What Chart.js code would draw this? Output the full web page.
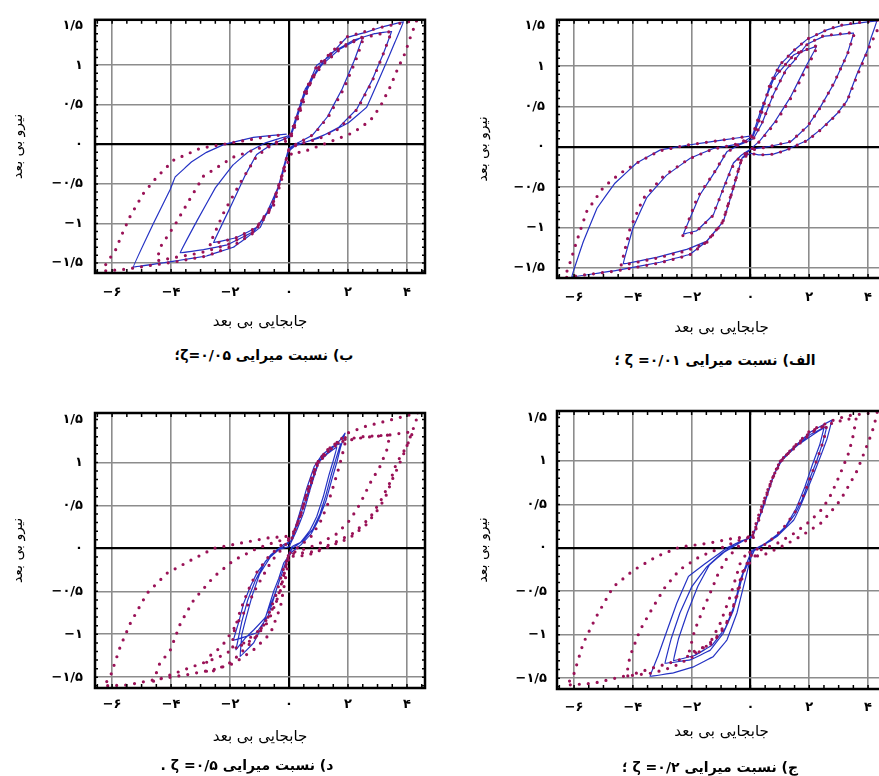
<!DOCTYPE html>
<html lang="fa">
<head>
<meta charset="utf-8">
<script src="https://cdn.jsdelivr.net/npm/chart.js@4.4.1/dist/chart.umd.min.js"></script>
<style>
html, body { margin: 0; padding: 0; background: #fff; overflow: hidden; width: 879px; height: 776px; }
canvas { position: absolute; }
.cap { position: absolute; font-family: "DejaVu Sans"; font-weight: bold; font-size: 14px; direction: rtl; white-space: nowrap; transform: translate(-50%, -50%); color: #000; }
</style>
</head>
<body>
<canvas id="c_be" width="440" height="345" style="left:0;top:0"></canvas>
<canvas id="c_alef" width="460" height="345" style="left:440px;top:0"></canvas>
<canvas id="c_dal" width="440" height="386" style="left:0;top:390px"></canvas>
<canvas id="c_jim" width="460" height="386" style="left:440px;top:390px"></canvas>
<div class="cap" id="cap_be" style="left:264px;top:355px"></div>
<div class="cap" id="cap_alef" style="left:715px;top:360px"></div>
<div class="cap" id="cap_dal" style="left:247px;top:765px"></div>
<div class="cap" id="cap_jim" style="left:710px;top:767px"></div>
<script>
// محورها
const xTicks = [-6, -4, -2, 0, 2, 4];
const yTicks = [-1.5, -1, -0.5, 0, 0.5, 1, 1.5];
const xTitle = 'جابجایی بی بعد';
const yTitle = 'نیرو بی بعد';
const captions = ['الف) نسبت میرایی ۰/۰۱= ζ ؛', 'ب) نسبت میرایی ۰/۰۵=ζ؛', 'ج) نسبت میرایی ۰/۲= ζ ؛', 'د) نسبت میرایی ۰/۵= ζ .'];

// الف) zeta = 0.01  (خط آبی و نقطه چین)
const alefBlue = [
  [0.05,0.12],[0.35,0.45],[0.8,0.85],[1.47,1.14],[2.26,1.25],[1.92,1.02],[1.35,0.61],[0.79,0.29],[0.33,0.08],[0,-0.03],
  [-0.3,-0.1],[-0.58,-0.2],[-0.92,-0.51],[-1.26,-0.84],[-1.83,-1.04],[-2.28,-1.08],[-1.71,-0.59],[-1.14,-0.27],[-0.8,-0.06],[-0.35,0.03],
  [0.1,0.1],[0.4,0.3],[0.78,0.65],[1.2,0.95],[1.47,1.06],[1.92,1.27],[2.49,1.37],[3.51,1.41],[3.28,1.14],[2.83,0.78],[2.37,0.49],[1.93,0.25],[1.35,0.06],[0.56,0],[0,-0.03],
  [-0.29,-0.14],[-0.58,-0.51],[-0.92,-0.92],[-1.49,-1.17],[-2.17,-1.27],[-3.19,-1.37],[-4.33,-1.45],[-3.99,-1.0],[-3.53,-0.63],[-2.85,-0.35],[-2.05,-0.14],[-1.26,-0.02],[-0.35,0.04],
  [0.1,0.14],[0.33,0.37],[0.67,0.78],[1.01,1.02],[1.5,1.2],[1.92,1.33],[2.6,1.45],[3.17,1.51],[3.8,1.54],[4.3,1.56],[4.1,1.35],[3.97,1.19],[3.62,0.9],[3.28,0.57],[2.94,0.41],[2.4,0.22],[1.92,0.08],[1.2,-0.04],[0.78,-0.09],[0.3,-0.1],[0,-0.08],
  [-0.29,-0.14],[-0.58,-0.51],[-0.92,-0.92],[-1.49,-1.17],[-2.05,-1.33],[-3.08,-1.43],[-4.55,-1.53],[-6.08,-1.61],[-5.68,-1.17],[-5.22,-0.76],[-4.61,-0.45],[-3.87,-0.2],[-3.08,-0.04],[-2.17,0.02],[-1.03,0.08],[0.1,0.14]
];
const alefDots = [
  [0.05,0.12],[0.4,0.5],[0.85,0.88],[1.5,1.15],[2.3,1.26],[1.95,1.0],[1.4,0.62],[0.85,0.3],[0.35,0.08],[0,-0.04],
  [-0.35,-0.12],[-0.62,-0.25],[-0.95,-0.55],[-1.3,-0.86],[-1.85,-1.05],[-2.3,-1.1],[-1.8,-0.62],[-1.2,-0.3],[-0.85,-0.08],[-0.4,0.03],
  [0.1,0.1],[0.42,0.32],[0.8,0.67],[1.22,0.96],[1.5,1.08],[1.95,1.28],[2.5,1.38],[3.55,1.42],[3.3,1.15],[2.85,0.8],[2.4,0.5],[1.95,0.26],[1.38,0.07],[0.6,0],[0,-0.04],
  [-0.3,-0.15],[-0.6,-0.53],[-0.95,-0.94],[-1.5,-1.19],[-2.2,-1.29],[-3.2,-1.38],[-4.4,-1.47],[-4.1,-1.02],[-3.65,-0.64],[-2.95,-0.36],[-2.1,-0.15],[-1.3,-0.03],[-0.4,0.04],
  [0.1,0.14],[0.35,0.38],[0.68,0.8],[1.03,1.03],[1.52,1.21],[1.95,1.34],[2.65,1.46],[3.2,1.52],[3.9,1.55],[4.5,1.58],[4.25,1.4],[4.0,1.2],[3.65,0.9],[3.3,0.58],[2.96,0.41],[2.42,0.22],[1.94,0.08],[1.22,-0.04],[0.8,-0.09],[0.3,-0.1],[0,-0.08],
  [-0.3,-0.15],[-0.6,-0.52],[-0.94,-0.93],[-1.5,-1.18],[-2.07,-1.34],[-3.1,-1.44],[-4.6,-1.54],[-5.5,-1.58],[-6.32,-1.62],[-6.15,-1.45],[-5.91,-1.17],[-5.57,-0.8],[-5.0,-0.5],[-4.44,-0.33],[-3.87,-0.2],[-3.1,-0.05],[-2.2,0.02],[-1.05,0.08],[0.1,0.14]
];

// ب) zeta = 0.05
const beBlue = [
  [0.05,0.12],[0.2,0.3],[0.55,0.7],[1.1,1.0],[1.7,1.2],[2.5,1.36],[2.2,1.05],[1.8,0.7],[1.3,0.35],[0.8,0.12],[0.3,0.02],[0,-0.05],
  [-0.2,-0.35],[-0.55,-0.75],[-1.1,-1.05],[-1.8,-1.18],[-2.56,-1.24],[-2.0,-0.8],[-1.5,-0.4],[-1.1,-0.13],[-0.6,0],[0.05,0.1],
  [0.15,0.2],[0.5,0.6],[0.95,0.95],[1.4,1.15],[2.2,1.32],[2.9,1.4],[3.48,1.43],[3.2,1.15],[2.8,0.8],[2.3,0.45],[1.7,0.22],[1.0,0.08],[0.3,0],[0,-0.06],
  [-0.25,-0.4],[-0.6,-0.8],[-1.2,-1.1],[-2.1,-1.27],[-2.9,-1.33],[-3.69,-1.37],[-3.1,-0.95],[-2.5,-0.55],[-1.9,-0.26],[-1.4,-0.1],[-0.8,0.02],[-0.1,0.1],
  [0.05,0.12],[0.3,0.4],[0.65,0.75],[0.94,1.0],[1.33,1.1],[1.95,1.35],[2.63,1.42],[3.2,1.49],[3.88,1.55],[3.6,1.3],[3.2,0.95],[2.63,0.47],[2.0,0.27],[1.39,0.15],[0.71,0.05],[0.2,-0.02],
  [-0.05,-0.1],[-0.36,-0.53],[-0.98,-1.05],[-1.89,-1.3],[-2.8,-1.41],[-3.81,-1.47],[-5.28,-1.55],[-4.6,-1.0],[-4.03,-0.57],[-3.86,-0.41],[-3.3,-0.22],[-2.8,-0.1],[-2.2,0],[-1.21,0.09],[-0.08,0.13]
];
const beDots = [
  [0.05,0.12],[0.22,0.32],[0.58,0.72],[1.12,1.0],[1.72,1.2],[2.55,1.37],[2.25,1.05],[1.85,0.7],[1.35,0.36],[0.85,0.13],[0.32,0.02],[0,-0.05],
  [-0.2,-0.35],[-0.55,-0.75],[-1.1,-1.05],[-1.8,-1.18],[-2.7,-1.27],[-2.2,-0.85],[-1.6,-0.45],[-1.1,-0.15],[-0.5,0.02],[0.05,0.1],
  [0.15,0.2],[0.5,0.6],[0.95,0.95],[1.5,1.18],[2.3,1.33],[3.48,1.43],[3.2,1.15],[2.8,0.78],[2.3,0.44],[1.7,0.2],[1.0,0.07],[0.3,0],[0,-0.06],
  [-0.25,-0.4],[-0.6,-0.8],[-1.2,-1.1],[-2.1,-1.27],[-3.0,-1.37],[-4.48,-1.47],[-4.37,-1.3],[-3.86,-1.01],[-3.41,-0.72],[-2.9,-0.4],[-1.89,-0.16],[-0.87,-0.03],[0,0.05],
  [0.1,0.12],[0.5,0.55],[0.94,1.0],[1.4,1.15],[1.95,1.36],[3.0,1.47],[3.88,1.54],[4.33,1.57],[4.1,1.34],[3.93,1.15],[3.7,0.97],[3.42,0.72],[3.08,0.47],[2.75,0.3],[2.18,0.15],[1.5,0.05],[0.94,-0.03],[0.43,-0.1],[0.1,-0.1],
  [-0.19,-0.37],[-0.53,-0.78],[-1.21,-1.12],[-1.89,-1.28],[-2.79,-1.41],[-3.8,-1.48],[-4.71,-1.53],[-5.6,-1.58],[-6.29,-1.6],[-6.2,-1.5],[-5.9,-1.35],[-5.67,-1.14],[-5.39,-0.91],[-4.94,-0.62],[-4.5,-0.42],[-3.92,-0.2],[-3.02,-0.05],[-2.1,0.01],[-0.87,0.09],[-0.08,0.13]
];

// ج) zeta = 0.2
const jimBlue = [
  [0.15,0.2],[0.5,0.55],[0.8,0.85],[1.1,1.02],[1.6,1.18],[2.2,1.32],[2.5,1.38],[2.35,1.18],[2.1,0.95],[1.85,0.7],[1.55,0.45],[1.2,0.25],[0.7,0.08],[0.15,-0.02],
  [-0.25,-0.3],[-0.5,-0.62],[-0.85,-0.92],[-1.3,-1.12],[-1.9,-1.24],[-2.62,-1.3],[-2.45,-1.05],[-2.15,-0.75],[-1.8,-0.45],[-1.4,-0.2],[-0.9,-0.05],[-0.3,0.07],
  [0.1,0.15],[0.45,0.5],[0.75,0.8],[1.0,0.98],[1.4,1.12],[2.0,1.3],[2.6,1.4],[2.45,1.2],[2.25,1.0],[2.0,0.78],[1.75,0.55],[1.5,0.38],[1.1,0.2],[0.5,0.05],[0.05,-0.03],
  [-0.35,-0.37],[-0.58,-0.72],[-0.92,-0.98],[-1.37,-1.18],[-2.05,-1.29],[-2.91,-1.33],[-2.7,-1.05],[-2.4,-0.75],[-2.0,-0.45],[-1.49,-0.22],[-1.0,-0.07],[-0.5,0.05],
  [0.05,0.12],[0.44,0.47],[0.78,0.82],[1.01,1.0],[1.35,1.12],[2.03,1.33],[2.77,1.47],[2.6,1.25],[2.38,1.05],[2.15,0.85],[1.92,0.66],[1.7,0.48],[1.47,0.32],[0.9,0.13],[0.33,0.01],[0.05,-0.05],
  [-0.07,-0.22],[-0.24,-0.45],[-0.46,-0.75],[-0.8,-1.06],[-1.26,-1.25],[-1.94,-1.37],[-2.62,-1.44],[-3.42,-1.48],[-3.15,-1.25],[-2.91,-1.02],[-2.51,-0.64],[-2.11,-0.33],[-1.77,-0.24],[-1.37,-0.14],[-0.8,0],[-0.3,0.08],[0.05,0.12]
];
const jimDots = [
  [0.1,0.12],[0.45,0.5],[0.8,0.85],[1.05,1.02],[1.5,1.15],[2.1,1.33],[2.6,1.42],[2.5,1.25],[2.3,1.05],[2.05,0.82],[1.8,0.6],[1.5,0.4],[1.1,0.22],[0.6,0.06],[0.1,-0.04],
  [-0.3,-0.3],[-0.55,-0.65],[-0.85,-0.9],[-1.3,-1.1],[-2.1,-1.22],[-1.9,-0.95],[-1.6,-0.7],[-1.37,-0.52],[-1.1,-0.3],[-0.8,-0.12],[-0.4,0.02],
  [0.1,0.15],[0.4,0.48],[0.72,0.78],[1.05,1.0],[1.5,1.17],[2.1,1.35],[2.9,1.45],[3.6,1.5],[3.5,1.3],[3.35,1.1],[3.05,0.85],[2.75,0.62],[2.45,0.45],[2.0,0.3],[1.5,0.17],[0.9,0.05],[0.3,-0.03],
  [-0.2,-0.25],[-0.5,-0.6],[-0.8,-0.85],[-1.2,-1.05],[-1.8,-1.2],[-2.5,-1.3],[-3.3,-1.38],[-4.22,-1.48],[-4.1,-1.25],[-3.76,-0.95],[-3.31,-0.68],[-2.9,-0.45],[-2.4,-0.25],[-1.72,-0.1],[-0.92,0.01],[-0.3,0.1],
  [0.05,0.13],[0.33,0.43],[0.67,0.74],[1.01,1.0],[1.47,1.16],[2.03,1.35],[2.83,1.47],[3.28,1.52],[4.31,1.56],[4.2,1.4],[4.08,1.28],[3.85,1.08],[3.63,0.89],[3.35,0.72],[3.06,0.55],[2.7,0.4],[2.38,0.28],[1.69,0.13],[1.2,0.04],[0.78,-0.03],[0.33,-0.1],[0.05,-0.08],
  [-0.07,-0.03],[-0.35,-0.18],[-0.69,-0.56],[-1.03,-0.87],[-1.38,-1.1],[-1.94,-1.25],[-2.63,-1.37],[-3.31,-1.44],[-4.33,-1.48],[-5.35,-1.56],[-6.26,-1.58],[-6.03,-1.48],[-5.69,-1.1],[-5.24,-0.79],[-4.67,-0.45],[-3.99,-0.26],[-3.19,-0.1],[-2.4,0.01],[-1.49,0.05],[-0.58,0.11],[0.05,0.13]
];

// د) zeta = 0.5
const dalBlue = [
  [0.1,0.12],[0.35,0.4],[0.6,0.7],[0.85,0.95],[1.1,1.08],[1.45,1.18],[1.75,1.22],[1.6,1.05],[1.45,0.88],[1.25,0.62],[1.05,0.4],[0.8,0.22],[0.45,0.08],[0.1,0.02],
  [-0.1,-0.15],[-0.4,-0.45],[-0.7,-0.78],[-1.1,-0.98],[-1.5,-1.03],[-1.89,-1.07],[-1.7,-0.85],[-1.54,-0.64],[-1.32,-0.45],[-1.08,-0.28],[-0.63,-0.08],[-0.2,0.04],
  [0.05,0.08],[0.3,0.3],[0.55,0.55],[0.8,0.82],[1.0,1.0],[1.3,1.1],[1.62,1.18],[1.5,1.02],[1.35,0.85],[1.16,0.6],[0.94,0.37],[0.71,0.21],[0.37,0.06],[0.1,0],
  [-0.2,-0.25],[-0.5,-0.55],[-0.8,-0.8],[-1.2,-0.95],[-1.5,-1.05],[-1.8,-1.18],[-1.6,-0.85],[-1.4,-0.6],[-1.15,-0.38],[-0.8,-0.15],[-0.4,-0.02],
  [0,0.02],[0.26,0.21],[0.49,0.41],[0.71,0.68],[0.88,0.87],[1.05,1.03],[1.39,1.14],[1.73,1.26],[1.9,1.34],[1.75,1.18],[1.62,1.0],[1.45,0.8],[1.25,0.55],[1.0,0.33],[0.75,0.17],[0.4,0.04],[0.1,-0.04],
  [-0.18,-0.17],[-0.35,-0.35],[-0.52,-0.5],[-0.86,-0.87],[-1.2,-1.1],[-1.66,-1.26],[-1.6,-1.0],[-1.45,-0.8],[-1.25,-0.55],[-1.0,-0.3],[-0.63,-0.1],[-0.29,0],[0,0.06]
];
const dalDots = [
  [0.1,0.12],[0.4,0.4],[0.7,0.72],[0.95,0.98],[1.3,1.12],[1.75,1.25],[1.95,1.3],[1.85,1.15],[1.7,0.95],[1.5,0.72],[1.3,0.5],[1.05,0.3],[0.75,0.14],[0.35,0.02],[0.05,-0.04],
  [-0.2,-0.25],[-0.45,-0.55],[-0.75,-0.82],[-1.1,-1.02],[-1.5,-1.12],[-1.95,-1.15],[-1.85,-0.95],[-1.65,-0.72],[-1.4,-0.5],[-1.1,-0.28],[-0.7,-0.1],[-0.3,0.03],
  [0.1,0.12],[0.4,0.4],[0.72,0.72],[0.96,0.97],[1.3,1.12],[1.75,1.24],[2.52,1.29],[3.42,1.32],[3.31,1.14],[3.08,0.95],[2.75,0.76],[2.41,0.52],[2.07,0.33],[1.62,0.17],[1.05,0.06],[0.6,0],[0.2,-0.04],
  [0,-0.05],[-0.3,-0.5],[-0.7,-0.85],[-1.3,-1.1],[-1.94,-1.32],[-2.51,-1.42],[-2.8,-1.45],[-2.79,-1.28],[-2.57,-1.22],[-2.28,-1.14],[-1.94,-0.97],[-1.55,-0.76],[-1.1,-0.45],[-0.6,-0.15],[-0.1,0.05],
  [0.1,0.12],[0.4,0.4],[0.7,0.76],[0.94,0.99],[1.28,1.14],[1.73,1.26],[2.52,1.3],[3.42,1.32],[4.21,1.36],[3.98,1.18],[3.64,0.99],[3.4,0.75],[3.1,0.55],[2.75,0.36],[2.2,0.18],[1.5,0.06],[0.8,-0.04],[0.3,-0.06],[0,-0.06],
  [-0.1,-0.2],[-0.4,-0.6],[-0.9,-0.92],[-1.6,-1.12],[-2.4,-1.27],[-3.3,-1.38],[-4.0,-1.47],[-4.6,-1.55],[-4.4,-1.35],[-4.02,-1.18],[-3.68,-0.87],[-3.23,-0.6],[-2.55,-0.33],[-1.88,-0.14],[-1.08,0],[-0.41,0.08],[0.05,0.12],
  [0.37,0.35],[0.6,0.65],[0.94,0.99],[1.28,1.14],[1.73,1.26],[1.97,1.34],[2.6,1.42],[3.5,1.5],[4.4,1.58],[4.2,1.38],[3.95,1.15],[3.7,0.95],[3.5,0.8],[3.25,0.58],[2.95,0.42],[2.6,0.27],[2.05,0.12],[1.35,0.02],[0.8,-0.06],[0.25,-0.1],[0,-0.08],
  [-0.07,-0.25],[-0.29,-0.68],[-0.63,-0.99],[-1.2,-1.18],[-1.88,-1.34],[-2.55,-1.41],[-3.46,-1.47],[-4.59,-1.53],[-5.49,-1.59],[-6.28,-1.6],[-6.06,-1.49],[-5.72,-1.14],[-5.38,-0.87],[-4.81,-0.52],[-4.14,-0.29],[-3.34,-0.14],[-2.55,0],[-1.65,0.06],[-0.75,0.12],[-0.07,0.14]
];

const blueColor = '#2432c4';
const dotColor = '#9a1257';
const faDigits = '۰۱۲۳۴۵۶۷۸۹';

function fa(v) {
  const s = String(Math.abs(v)).replace('.', '/').replace(/\d/g, d => faDigits[d]);
  return v < 0 ? '−' + s : s;
}

function toXY(arr) {
  return arr.map(p => ({ x: p[0], y: p[1] }));
}

// قاب و تیک های ریز
const framePlugin = {
  id: 'frame',
  afterDraw(chart) {
    const ctx = chart.ctx, a = chart.chartArea, x = chart.scales.x, y = chart.scales.y;
    ctx.save();
    ctx.strokeStyle = '#000';
    ctx.lineWidth = 1.5;
    ctx.beginPath();
    for (let i = Math.ceil(x.min * 2); i <= Math.floor(x.max * 2); i++) {
      const px = x.getPixelForValue(i / 2);
      ctx.moveTo(px, a.top); ctx.lineTo(px, a.top + 4);
      ctx.moveTo(px, a.bottom); ctx.lineTo(px, a.bottom - 4);
    }
    for (let i = Math.ceil(y.min * 10); i <= Math.floor(y.max * 10); i++) {
      const py = y.getPixelForValue(i / 10);
      ctx.moveTo(a.left, py); ctx.lineTo(a.left + 3, py);
      ctx.moveTo(a.right, py); ctx.lineTo(a.right - 3, py);
    }
    ctx.stroke();
    ctx.lineWidth = 2.5;
    ctx.strokeRect(a.left, a.top, a.right - a.left, a.bottom - a.top);
    ctx.restore();
  }
};

const gridOpts = {
  drawTicks: false,
  color: c => c.tick && c.tick.value === 0 ? '#000' : (c.tick && c.tick.value === 1.5 ? 'rgba(0,0,0,0)' : '#8c8c8c'),
  lineWidth: c => c.tick && c.tick.value === 0 ? 2.2 : 1.6
};

function makePanel(id, blue, dots, box) {
  new Chart(document.getElementById(id), {
    type: 'scatter',
    data: {
      datasets: [
        { data: toXY(dots), showLine: true, borderColor: dotColor, borderWidth: 3.2, borderDash: [0, 9], borderCapStyle: 'round', pointRadius: 0, tension: 0 },
        { data: toXY(blue), showLine: true, borderColor: blueColor, borderWidth: 1.2, pointRadius: 0, tension: 0.02 }
      ]
    },
    options: {
      responsive: false,
      animation: false,
      events: [],
      layout: { padding: box.pad },
      plugins: { legend: { display: false }, tooltip: { enabled: false } },
      scales: {
        x: {
          type: 'linear', min: -6.58, max: 4.61,
          afterBuildTicks: s => { s.ticks = xTicks.map(v => ({ value: v })); },
          afterFit: s => { s.height = box.xh; },
          grid: gridOpts,
          border: { display: false },
          ticks: { padding: box.xp, color: '#000', maxRotation: 0, font: { family: 'DejaVu Sans', size: 13, weight: 'bold' }, callback: v => fa(v) },
          title: { display: true, text: xTitle, color: '#000', font: { family: 'DejaVu Sans', size: 15 } }
        },
        y: {
          type: 'linear', min: -1.625, max: 1.575,
          afterBuildTicks: s => { s.ticks = yTicks.map(v => ({ value: v })); },
          afterFit: s => { s.width = box.yw; },
          grid: gridOpts,
          border: { display: false },
          ticks: { padding: box.yp, color: '#000', font: { family: 'DejaVu Sans', size: 13, weight: 'bold' }, callback: v => fa(v) },
          title: { display: true, text: yTitle, color: '#000', font: { family: 'DejaVu Sans', size: 14 } }
        }
      }
    },
    plugins: [framePlugin]
  });
}

makePanel('c_be', beBlue, beDots, { pad: { left: 6, top: 19, right: 15, bottom: 10 }, xh: 62, yw: 89, xp: 12, yp: 12 });
makePanel('c_alef', alefBlue, alefDots, { pad: { left: 31, top: 16, right: 14, bottom: 4 }, xh: 63, yw: 86, xp: 12, yp: 12 });
makePanel('c_dal', dalBlue, dalDots, { pad: { left: 6, top: 23, right: 15, bottom: 26 }, xh: 62, yw: 89, xp: 9, yp: 12 });
makePanel('c_jim', jimBlue, jimDots, { pad: { left: 31, top: 21, right: 14, bottom: 31 }, xh: 56, yw: 86, xp: 11, yp: 10 });

document.getElementById('cap_alef').textContent = captions[0];
document.getElementById('cap_be').textContent = captions[1];
document.getElementById('cap_jim').textContent = captions[2];
document.getElementById('cap_dal').textContent = captions[3];
</script>
</body>
</html>
